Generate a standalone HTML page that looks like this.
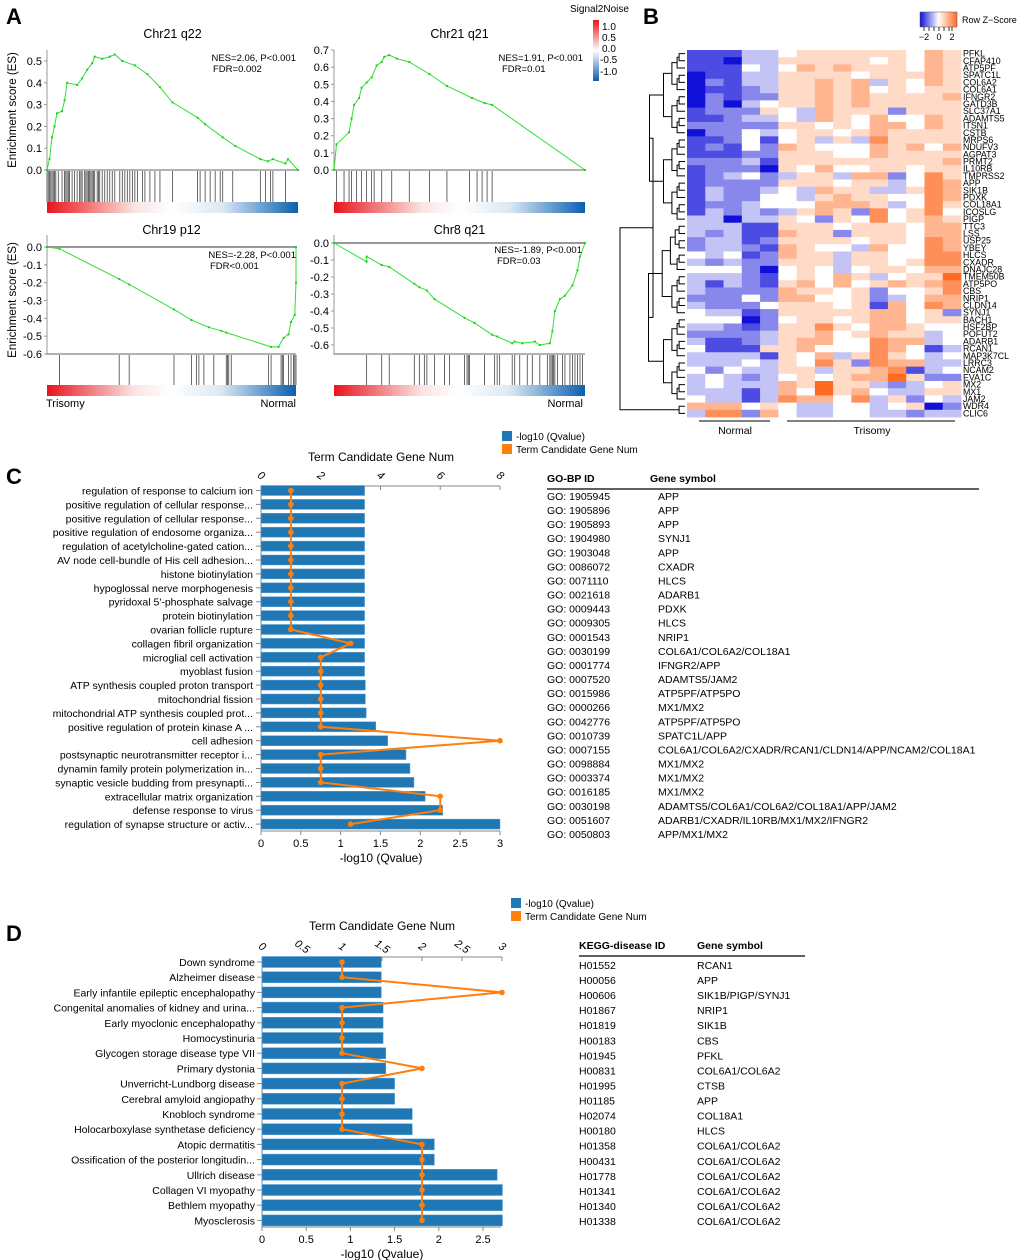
<!DOCTYPE html>
<html><head><meta charset="utf-8"><style>
html,body{margin:0;padding:0;background:#fff;}
svg{display:block;font-family:"Liberation Sans",Arial,sans-serif;}
</style></head><body>
<svg id="fig" width="1020" height="1260" viewBox="0 0 1020 1260" xmlns="http://www.w3.org/2000/svg">
<defs>
<linearGradient id="rankbar" x1="0" x2="1" y1="0" y2="0"><stop offset="0" stop-color="#e8141c"/><stop offset="0.35" stop-color="#fbe4e4"/><stop offset="0.5" stop-color="#ffffff"/><stop offset="0.7" stop-color="#dbe8f3"/><stop offset="1" stop-color="#0a5fb0"/></linearGradient>
<linearGradient id="s2n" x1="0" x2="0" y1="0" y2="1"><stop offset="0" stop-color="#e8141c"/><stop offset="0.5" stop-color="#ffffff"/><stop offset="1" stop-color="#0a5fb0"/></linearGradient>
<linearGradient id="zkey" x1="0" x2="1" y1="0" y2="0"><stop offset="0" stop-color="#1010d8"/><stop offset="0.5" stop-color="#ffffff"/><stop offset="1" stop-color="#ff6a20"/></linearGradient>
</defs>
<g id="static">
<text x="6" y="24" font-size="22" font-weight="bold">A</text>
<text x="643" y="24" font-size="22" font-weight="bold">B</text>
<text x="6" y="484" font-size="22" font-weight="bold">C</text>
<text x="6" y="941" font-size="22" font-weight="bold">D</text>
<text x="570" y="12" font-size="10">Signal2Noise</text>
<rect x="593" y="20" width="6" height="61" fill="url(#s2n)"/>
<g font-size="10">
<text x="602" y="30">1.0</text><text x="602" y="41">0.5</text><text x="602" y="52">0.0</text><text x="600" y="63">-0.5</text><text x="600" y="75">-1.0</text></g>
<text transform="translate(16,110) rotate(-90)" text-anchor="middle" font-size="11.5">Enrichment score (ES)</text>
<text transform="translate(16,300) rotate(-90)" text-anchor="middle" font-size="11.5">Enrichment score (ES)</text>
<text x="46" y="407" font-size="11">Trisomy</text>
<text x="296" y="407" font-size="11" text-anchor="end">Normal</text>
<text x="583" y="407" font-size="11" text-anchor="end">Normal</text>
<rect x="920" y="12" width="37" height="15" fill="url(#zkey)" stroke="#555" stroke-width="0.5"/>
<text x="962" y="23" font-size="9">Row Z−Score</text>
<g font-size="9" text-anchor="middle"><text x="924" y="40">−2</text><text x="939" y="40">0</text><text x="952" y="40">2</text>
<path d="M924 27v4M929 27v4M934 27v4M939 27v4M944 27v4M949 27v4M952 27v4" stroke="#000" stroke-width="0.8"/></g>
<line x1="699" y1="421" x2="770" y2="421" stroke="#000"/>
<line x1="787" y1="421" x2="955" y2="421" stroke="#000"/>
<text x="735" y="434" font-size="10.5" text-anchor="middle">Normal</text>
<text x="872" y="434" font-size="10.5" text-anchor="middle">Trisomy</text>
</g>
<g id="panelA"></g><g id="panelB"></g><g id="panelC"></g><g id="panelD"></g>
</svg>
<script>
var NS='http://www.w3.org/2000/svg';
function E(tag,p,at){var e=document.createElementNS(NS,tag);for(var k in at)e.setAttribute(k,at[k]);p.appendChild(e);return e;}
function T(p,x,y,s,at){var e=E('text',p,Object.assign({x:x,y:y},at||{}));e.textContent=s;return e;}

// ---------- Panel A data ----------
var gseaTitles=['Chr21 q22','Chr21 q21','Chr19 p12','Chr8 q21'];
var gseaStats=[['NES=2.06, P<0.001','FDR=0.002'],['NES=1.91, P<0.001','FDR=0.01'],['NES=-2.28, P<0.001','FDR<0.001'],['NES=-1.89, P<0.001','FDR=0.03']];
var es1X=[0,0.01,0.02,0.03,0.04,0.06,0.07,0.08,0.12,0.14,0.16,0.18,0.19,0.22,0.25,0.27,0.3,0.35,0.4,0.45,0.5,0.6,0.63,0.7,0.75,0.85,0.88,0.9,0.95,0.96,1];
var es1Y=[0,0.05,0.15,0.2,0.26,0.27,0.32,0.4,0.39,0.42,0.46,0.49,0.52,0.51,0.52,0.53,0.5,0.48,0.44,0.38,0.31,0.24,0.21,0.15,0.11,0.05,0.04,0.05,0.03,0.05,0];
var es2X=[0,0.01,0.06,0.07,0.08,0.1,0.11,0.13,0.15,0.17,0.19,0.2,0.22,0.25,0.3,0.38,0.45,0.55,0.6,0.63,1];
var es2Y=[0,0.15,0.22,0.3,0.38,0.42,0.48,0.51,0.54,0.61,0.63,0.66,0.67,0.65,0.63,0.56,0.49,0.42,0.39,0.38,0];
var es3X=[0,0.05,0.29,0.33,0.51,0.58,0.65,0.7,0.72,0.9,0.93,0.95,0.97,0.98,0.995,1,1];
var es3Y=[0,-0.01,-0.18,-0.21,-0.35,-0.41,-0.45,-0.47,-0.48,-0.56,-0.56,-0.51,-0.49,-0.42,-0.38,-0.2,0];
var es4X=[0,0.13,0.13,0.19,0.22,0.32,0.34,0.37,0.4,0.52,0.56,0.63,0.65,0.71,0.72,0.75,0.8,0.82,0.86,0.87,0.88,0.9,0.92,0.95,0.97,0.98,1];
var es4Y=[0,-0.11,-0.08,-0.13,-0.14,-0.24,-0.26,-0.28,-0.33,-0.44,-0.47,-0.54,-0.55,-0.59,-0.58,-0.59,-0.58,-0.6,-0.59,-0.52,-0.4,-0.33,-0.31,-0.25,-0.16,-0.08,0];
var hits1=[0,0.005,0.01,0.015,0.02,0.025,0.03,0.035,0.045,0.06,0.07,0.075,0.08,0.085,0.09,0.1,0.11,0.12,0.13,0.135,0.14,0.15,0.155,0.16,0.165,0.17,0.175,0.18,0.185,0.19,0.2,0.205,0.21,0.22,0.23,0.24,0.25,0.26,0.27,0.29,0.3,0.31,0.32,0.33,0.34,0.35,0.36,0.38,0.39,0.41,0.43,0.45,0.5,0.6,0.61,0.63,0.65,0.67,0.69,0.7,0.74,0.85,0.87,0.89,0.9,0.95];
var hits2=[0.01,0.04,0.06,0.07,0.09,0.11,0.13,0.15,0.16,0.19,0.23,0.3,0.38,0.45,0.54,0.57,0.59,0.61,0.63];
var hits3=[0.05,0.29,0.33,0.51,0.58,0.6,0.61,0.63,0.67,0.72,0.725,0.73,0.74,0.89,0.9,0.94,0.945,0.95,0.97,0.98,0.99,0.995,1];
var hits4=[0.13,0.19,0.22,0.32,0.34,0.36,0.37,0.4,0.44,0.46,0.52,0.53,0.535,0.54,0.6,0.64,0.65,0.66,0.71,0.72,0.74,0.77,0.79,0.82,0.85,0.86,0.865,0.87,0.875,0.88,0.89,0.91,0.92,0.94,0.95,0.96,0.97,0.98,0.99];
var esTicks1=[0,0.1,0.2,0.3,0.4,0.5];
var esTicks2=[0,0.1,0.2,0.3,0.4,0.5,0.6,0.7];
var esTicks3=[0,-0.1,-0.2,-0.3,-0.4,-0.5,-0.6];
var esTicks4=[0,-0.1,-0.2,-0.3,-0.4,-0.5,-0.6];

(function(){
 var g=document.getElementById('panelA');
 var layout=[
  {x0:47,x1:298,y0:170,vmin:0,vmax:0.5,ymax:61,top:50,bc0:171,bc1:202,cb:202,tt:38,st:[61,72],sx:296,fx:213,xs:es1X,ys:es1Y,h:hits1,tk:esTicks1,neg:false},
  {x0:334,x1:585,y0:170,vmin:0,vmax:0.7,ymax:50,top:50,bc0:171,bc1:202,cb:202,tt:38,st:[61,72],sx:583,fx:502,xs:es2X,ys:es2Y,h:hits2,tk:esTicks2,neg:false},
  {x0:47,x1:296,y0:247,vmin:0,vmax:-0.6,ymax:354,top:235,bc0:355,bc1:385,cb:385,tt:234,st:[258,269],sx:296,fx:210,xs:es3X,ys:es3Y,h:hits3,tk:esTicks3,neg:true},
  {x0:334,x1:585,y0:243,vmin:0,vmax:-0.6,ymax:345,top:235,bc0:355,bc1:385,cb:385,tt:234,st:[253,264],sx:582,fx:497,xs:es4X,ys:es4Y,h:hits4,tk:esTicks4,neg:true}];
 layout.forEach(function(L,i){
  var sub=E('g',g,{});
  
  
  function sx(f){return L.x0+f*(L.x1-L.x0);}
  function sy(v){return L.y0+(v-L.vmin)/(L.vmax-L.vmin)*(L.ymax-L.y0);}
  var t=T(sub,(L.x0+L.x1)/2,L.tt,gseaTitles[i],{'font-size':12.5,'text-anchor':'middle'});
  
  
  var ax=E('line',sub,{x1:L.x0,x2:L.x0,y1:L.neg?L.top:L.top,y2:L.neg?L.bc0:L.y0,stroke:'#999','stroke-width':1});
  
  
  var zl=E('line',sub,{x1:L.x0,x2:L.x1,y1:L.y0,y2:L.y0,stroke:'#999','stroke-width':L.neg?2:1.5});
  
  
  if(L.neg){var bl=E('line',sub,{x1:L.x0,x2:L.x1,y1:L.bc0-1,y2:L.bc0-1,stroke:'#999','stroke-width':1.5});
   
   }
  L.tk.forEach(function(v){
   var y=sy(v);
   var tl=T(sub,L.x0-5,y+4,v.toFixed(1),{'font-size':11,'text-anchor':'end'});
   
   
   E('line',sub,{x1:L.x0-3,x2:L.x0,y1:y,y2:y,stroke:'#999'});
  });
  var d='';L.xs.forEach(function(f,k){d+=(k?'L':'M')+sx(f).toFixed(1)+' '+sy(L.ys[k]).toFixed(1);});
  var p=E('path',sub,{d:d,fill:'none',stroke:'#33dd33','stroke-width':1});
  
  
  L.xs.forEach(function(f,k){var c=E('rect',sub,{x:sx(f)-1,y:sy(L.ys[k])-1,width:2,height:2,fill:'#22cc22'});
   
   });
  L.h.forEach(function(f){var h=E('line',sub,{x1:sx(f),x2:sx(f),y1:L.bc0,y2:L.bc1,stroke:'#444','stroke-width':0.8});
   
   });
  var cb=E('rect',sub,{x:L.x0,y:L.cb,width:L.x1-L.x0,height:11,fill:'url(#rankbar)'});
  
  
  var s1=T(sub,L.sx,L.st[0],gseaStats[i][0],{'font-size':9.5,'text-anchor':'end'});
  
  
  var s2=T(sub,L.fx,L.st[1],gseaStats[i][1],{'font-size':9.5});
  
  
 });
})();

// ---------- Panel B data ----------
var geneNames=['PFKL','CFAP410','ATP5PF','SPATC1L','COL6A2','COL6A1','IFNGR2','GATD3B','SLC37A1','ADAMTS5','ITSN1','CSTB','MRPS6','NDUFV3','AGPAT3','PRMT2','IL10RB','TMPRSS2','APP','SIK1B','PDXK','COL18A1','ICOSLG','PIGP','TTC3','LSS','USP25','YBEY','HLCS','CXADR','DNAJC28','TMEM50B','ATP5PO','CBS','NRIP1','CLDN14','SYNJ1','BACH1','HSF2BP','POFUT2','ADARB1','RCAN1','MAP3K7CL','LRRC3','NCAM2','EVA1C','MX2','MX1','JAM2','WDR4','CLIC6'];
// each row: 15 samples (5 Normal, 10 Trisomy); digit 0..8 maps to z-score -2..+2
var zRows=['111334555555465','110335555545465','111434656555465','011335555455565','021335565635465','011235565645455','021225565655556','020345565655555','122254365552555','112334365464465','222225545466465','022434554565555','112414535375555','121426544465646','111225554465555','222315555555556','122205464455455','123423553662475','122225554553476','132234365533576','132244356554476','122344466653475','132323565274574','330335425474565','333115554555466','323116552555466','233125555455476','233216544364476','434126553554477','323225553554577','444204543455466','333214546534558','313215646456567','322226554524457','222426644523466','322245554516476','433125555566452','444024554566455','332125575466544','222235564565534','311235664476634','411155644476413','333315463575434','333435475276633','424335535567134','343234545668522','343336585532345','333136485643355','433137664735243','666454334434502','377264334433233'];
(function(){
 var g=document.getElementById('panelB');
 var x0=687,y0=50,cw=274/15,rh=367/51;
 function col(z){var t=(z-4)/4;var r,gg,b;
  if(t<0){var a=-t;r=255-a*(255-16);gg=255-a*(255-16);b=255-a*(255-216);}
  else{r=255;gg=255-t*(255-106);b=255-t*(255-32);}
  return 'rgb('+Math.round(r)+','+Math.round(gg)+','+Math.round(b)+')';}
 zRows.forEach(function(row,i){
  for(var j=0;j<15;j++){
   var c=E('rect',g,{x:(x0+j*cw).toFixed(2),y:(y0+i*rh).toFixed(2),width:(cw+0.4).toFixed(2),height:(rh+0.4).toFixed(2),fill:col(+row[j])});
   
   
  }
  var t=T(g,x0+276,y0+i*rh+rh/2+3,geneNames[i],{'font-size':8.8});
  
  
 });
 var dg=E('g',g,{stroke:'#000','stroke-width':1,fill:'none'});
 
 
 function build(lo,hi){
  if(lo==hi)return {y:y0+lo*rh+rh/2,x:685};
  var mid;
  if(lo==0&&hi==50)mid=48;else if(lo==0&&hi==48)mid=23;else mid=Math.floor((lo+hi)/2);
  var a=build(lo,mid),b=build(mid+1,hi);
  var n=hi-lo+1;
  var x=(lo==0&&hi==50)?620:(lo==0&&hi==48)?653:685-3.6*Math.pow(n,0.72);
  E('path',dg,{d:'M'+a.x+' '+a.y.toFixed(1)+'H'+x.toFixed(1)+'V'+b.y.toFixed(1)+'H'+b.x});
  return {y:(a.y+b.y)/2,x:x};
 }
 build(0,50);
})();

// ---------- Panel C data ----------
var goTerms=['regulation of response to calcium ion','positive regulation of cellular response...','positive regulation of cellular response...','positive regulation of endosome organiza...','regulation of acetylcholine-gated cation...','AV node cell-bundle of His cell adhesion...','histone biotinylation','hypoglossal nerve morphogenesis',"pyridoxal 5'-phosphate salvage",'protein biotinylation','ovarian follicle rupture','collagen fibril organization','microglial cell activation','myoblast fusion','ATP synthesis coupled proton transport','mitochondrial fission','mitochondrial ATP synthesis coupled prot...','positive regulation of protein kinase A ...','cell adhesion','postsynaptic neurotransmitter receptor i...','dynamin family protein polymerization in...','synaptic vesicle budding from presynapti...','extracellular matrix organization','defense response to virus','regulation of synapse structure or activ...'];
var goQ=[1.3,1.3,1.3,1.3,1.3,1.3,1.3,1.3,1.3,1.3,1.3,1.3,1.3,1.3,1.31,1.31,1.32,1.44,1.59,1.82,1.87,1.92,2.06,2.28,3.0];
var goNum=[1,1,1,1,1,1,1,1,1,1,1,3,2,2,2,2,2,2,8,2,2,2,6,6,3];
var goIds=['GO: 1905945','GO: 1905896','GO: 1905893','GO: 1904980','GO: 1903048','GO: 0086072','GO: 0071110','GO: 0021618','GO: 0009443','GO: 0009305','GO: 0001543','GO: 0030199','GO: 0001774','GO: 0007520','GO: 0015986','GO: 0000266','GO: 0042776','GO: 0010739','GO: 0007155','GO: 0098884','GO: 0003374','GO: 0016185','GO: 0030198','GO: 0051607','GO: 0050803'];
var goGenes=['APP','APP','APP','SYNJ1','APP','CXADR','HLCS','ADARB1','PDXK','HLCS','NRIP1','COL6A1/COL6A2/COL18A1','IFNGR2/APP','ADAMTS5/JAM2','ATP5PF/ATP5PO','MX1/MX2','ATP5PF/ATP5PO','SPATC1L/APP','COL6A1/COL6A2/CXADR/RCAN1/CLDN14/APP/NCAM2/COL18A1','MX1/MX2','MX1/MX2','MX1/MX2','ADAMTS5/COL6A1/COL6A2/COL18A1/APP/JAM2','ADARB1/CXADR/IL10RB/MX1/MX2/IFNGR2','APP/MX1/MX2'];
var goQTicks=[0,0.5,1,1.5,2,2.5,3];
var goNumTicks=[0,2,4,6,8];
// ---------- Panel D data ----------
var kgTerms=['Down syndrome','Alzheimer disease','Early infantile epileptic encephalopathy','Congenital anomalies of kidney and urina...','Early myoclonic encephalopathy','Homocystinuria','Glycogen storage disease type VII','Primary dystonia','Unverricht-Lundborg disease','Cerebral amyloid angiopathy','Knobloch syndrome','Holocarboxylase synthetase deficiency','Atopic dermatitis','Ossification of the posterior longitudin...','Ullrich disease','Collagen VI myopathy','Bethlem myopathy','Myosclerosis'];
var kgQ=[1.35,1.35,1.35,1.37,1.37,1.37,1.4,1.4,1.5,1.5,1.7,1.7,1.95,1.95,2.66,2.72,2.72,2.72];
var kgNum=[1,1,3,1,1,1,1,2,1,1,1,1,2,2,2,2,2,2];
var kgIds=['H01552','H00056','H00606','H01867','H01819','H00183','H01945','H00831','H01995','H01185','H02074','H00180','H01358','H00431','H01778','H01341','H01340','H01338'];
var kgGenes=['RCAN1','APP','SIK1B/PIGP/SYNJ1','NRIP1','SIK1B','CBS','PFKL','COL6A1/COL6A2','CTSB','APP','COL18A1','HLCS','COL6A1/COL6A2','COL6A1/COL6A2','COL6A1/COL6A2','COL6A1/COL6A2','COL6A1/COL6A2','COL6A1/COL6A2'];
var kgQTicks=[0,0.5,1,1.5,2,2.5];
var kgNumTicks=[0,0.5,1,1.5,2,2.5,3];

function barChart(gid,C,terms,qv,nums,qt,nt,ids,genes){
 var g=document.getElementById(gid);
 function xb(v){return C.x0+v*C.kb;}
 function xt(n){return C.x0+n*C.kt;}
 function yr(i){return C.r0+i*C.rs;}
 var l1=E('rect',g,{x:C.lx,y:C.ly,width:10,height:10,fill:'#1f77b4'});
 
 
 var l2=E('rect',g,{x:C.lx,y:C.ly+13,width:10,height:10,fill:'#ff7f0e'});
 
 
 var lt1=T(g,C.lx+14,C.ly+9,'-log10 (Qvalue)',{'font-size':10});
 
 
 var lt2=T(g,C.lx+14,C.ly+22,'Term Candidate Gene Num',{'font-size':10});
 
 
 var tt=T(g,C.x0+120,C.titleY,'Term Candidate Gene Num',{'font-size':12,'text-anchor':'middle'});
 
 
 var ta=E('line',g,{x1:C.x0,x2:xt(nt[nt.length-1]),y1:C.topY,y2:C.topY,stroke:'#888'});
 
 
 nt.forEach(function(n){var x=xt(n);E('line',g,{x1:x,x2:x,y1:C.topY,y2:C.topY+4,stroke:'#888'});
  var t=T(g,x,C.topY-7,String(n),{'font-size':11,'font-style':'italic','text-anchor':'middle',transform:'rotate(35 '+x+' '+(C.topY-10)+')'});
  
  });
 var ba=E('line',g,{x1:C.x0,x2:xb(qt[qt.length-1])+(C.extra||0),y1:C.botY,y2:C.botY,stroke:'#888'});
 
 
 var la=E('line',g,{x1:C.x0,x2:C.x0,y1:C.topY,y2:C.botY,stroke:'#888'});
 
 
 qt.forEach(function(v){var x=xb(v);E('line',g,{x1:x,x2:x,y1:C.botY,y2:C.botY+4,stroke:'#888'});
  var t=T(g,x,C.botY+16,String(v),{'font-size':11,'text-anchor':'middle'});
  
  });
 var bt=T(g,C.x0+120,C.botY+31,C.xtitle,{'font-size':12,'text-anchor':'middle'});
 
 
 terms.forEach(function(s,i){
  var y=yr(i);
  var b=E('rect',g,{x:C.x0,y:y-C.bh/2,width:xb(qv[i])-C.x0,height:C.bh,fill:'#1f77b4',stroke:'#5aa0d8','stroke-width':0.5});
  
  
  E('line',g,{x1:C.x0-5,x2:C.x0,y1:y,y2:y,stroke:'#888'});
  var t=T(g,C.lr,y+4,s,{'font-size':10.5,'text-anchor':'end'});
  
  
 });
 var d='';nums.forEach(function(n,i){d+=(i?'L':'M')+xt(n).toFixed(1)+' '+yr(i).toFixed(1);});
 var ln=E('path',g,{d:d,fill:'none',stroke:'#ff7f0e','stroke-width':2});
 
 
 nums.forEach(function(n,i){var c=E('circle',g,{cx:xt(n),cy:yr(i),r:2.8,fill:'#ff7f0e'});
  
  });
 var h1=T(g,C.tx1,C.thY,C.h1,{'font-size':10.5,'font-weight':'bold'});
 
 
 var h2=T(g,C.th2,C.thY,'Gene symbol',{'font-size':10.5,'font-weight':'bold'});
 
 
 var hl=E('line',g,{x1:C.tx1,x2:C.tlx,y1:C.thY+7,y2:C.thY+7,stroke:'#000','stroke-width':1.3});
 
 
 ids.forEach(function(s,i){var y=C.tr0+i*C.trs;
  var a=T(g,C.tx1,y+4,s,{'font-size':10.5});
  
  
  var b=T(g,C.tx2,y+4,genes[i],{'font-size':10.5});
  
  });
}
barChart('panelC',{x0:261,kb:239/3,kt:239/8,r0:490.5,rs:13.9,bh:10,topY:486,botY:831,lr:253,lx:502,ly:431,titleY:461,xtitle:'-log10  (Qvalue)',
 tx1:547,tx2:658,th2:650,thY:482,tlx:979,tr0:496,trs:14.08,h1:'GO-BP ID'},goTerms,goQ,goNum,goQTicks,goNumTicks,goIds,goGenes);
barChart('panelD',{x0:262,kb:88.4,kt:80,r0:962,rs:15.2,bh:11,topY:957,botY:1227,lr:255,lx:511,ly:898,titleY:930,xtitle:'-log10 (Qvalue)',extra:18,
 tx1:579,tx2:697,th2:697,thY:949,tlx:805,tr0:965,trs:15.06,h1:'KEGG-disease ID'},kgTerms,kgQ,kgNum,kgQTicks,kgNumTicks,kgIds,kgGenes);
</script>
</body></html>
